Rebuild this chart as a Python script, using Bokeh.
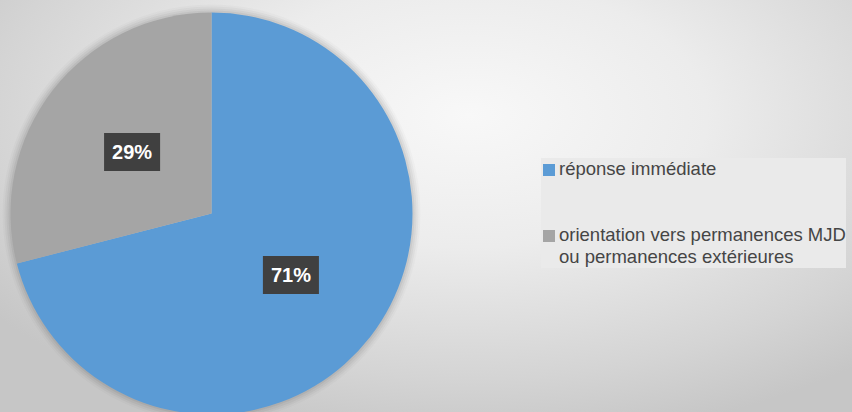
import math
from bokeh.plotting import figure
from bokeh.models import (ColumnDataSource, Legend, LegendItem, Label, Range1d,
                          GlobalInlineStyleSheet)
from bokeh.embed import file_html
from bokeh.resources import INLINE

# ---- data ----
categories = ["réponse immédiate",
              "\norientation vers permanences MJD\nou permanences extérieures"]
shares = [71, 29]
pct_labels = ["71%", "29%"]
colors = ["#5B9BD5", "#A5A5A5"]

# ---- geometry (clockwise from 12 o'clock, as in the original) ----
total = sum(shares)
starts, ends, mids = [], [], []
cum = 0.0
for s in shares:
    a0 = cum / total
    cum += s
    a1 = cum / total
    starts.append(math.pi / 2 - a1 * 2 * math.pi)
    ends.append(math.pi / 2 - a0 * 2 * math.pi)
    mids.append(math.pi / 2 - (a0 + a1) / 2 * 2 * math.pi)

R = 201
W, H = 852, 412
CX, CY = 211, 213  # pie centre, px from top-left
p = figure(width=W, height=H, output_backend="svg", toolbar_location=None,
           x_range=Range1d(-CX, W - CX), y_range=Range1d(-(H - CY), CY),
           min_border=0, outline_line_color=None)
p.axis.visible = False
p.grid.visible = False
p.background_fill_alpha = 0
p.border_fill_alpha = 0

p.stylesheets = [GlobalInlineStyleSheet(css="""
html { min-height: 100%;
       background: radial-gradient(ellipse 70% 80% at 55% 28%, #f8f8f8 0%, #ececec 40%, #d4d4d4 80%, #c6c6c6 100%) no-repeat;
       background-attachment: fixed; }
body { background: transparent; }
""")]

# soft shadow around the pie
for k, a in [(8, 0.02), (6, 0.03), (4, 0.04), (2, 0.05)]:
    p.circle(x=0, y=0, radius=R + k, fill_color="#000000", fill_alpha=a, line_color=None)

src = ColumnDataSource(dict(cat=categories, val=shares, start=starts, end=ends,
                            color=colors))
r = p.wedge(x=0, y=0, radius=R, start_angle="start", end_angle="end",
            fill_color="color", line_color=None, source=src)

for m, t in zip(mids, pct_labels):
    lx = 0.5 * R * math.cos(m)
    ly = 0.5 * R * math.sin(m)
    p.add_layout(Label(x=lx, y=ly, text=t, x_offset=3, y_offset=-3,
                       text_align="center", text_baseline="middle",
                       text_font="Liberation Sans", text_font_size="20px",
                       text_font_style="bold", text_alpha=0,
                       background_fill_color="#000000", background_fill_alpha=0.25,
                       padding=8))
    p.add_layout(Label(x=lx, y=ly, text=t,
                       text_align="center", text_baseline="middle",
                       text_font="Liberation Sans", text_font_size="20px",
                       text_font_style="bold", text_color="#ffffff",
                       background_fill_color="#404040", padding=8))

items = [LegendItem(label=c, renderers=[r], index=i) for i, c in enumerate(categories)]
legend = Legend(items=items, location=(541, 144), orientation="vertical",
                glyph_width=15, glyph_height=15, label_standoff=3,
                label_text_font="Liberation Sans", label_text_font_size="18.5px",
                label_text_color="#454545", label_text_line_height=1.55,
                spacing=22, padding=23, margin=0,
                background_fill_color="#eaeaea", background_fill_alpha=1,
                border_line_color=None)
p.add_layout(legend)

open("out.html", "w").write(file_html(p, INLINE))
